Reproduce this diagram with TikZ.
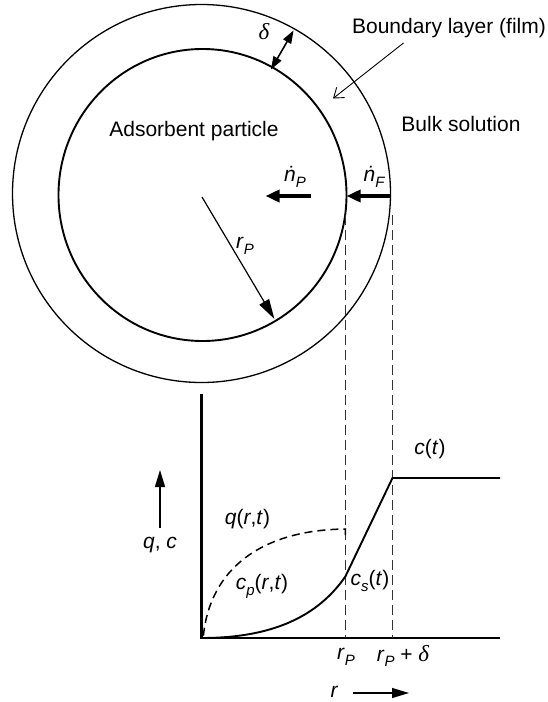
\documentclass[tikz,border=0pt]{standalone}
\usepackage{fontspec}
\setmainfont{Liberation Sans}
\newfontfamily\timesfont{Liberation Serif}
\usetikzlibrary{arrows.meta}
\newcommand\sub[1]{\raisebox{-0.28em}{\fontsize{15}{15}\selectfont\itshape #1}}
\newcommand\ndot{\textit{n^^^^0307}}
\newcommand\dlt{{\timesfont\fontsize{23}{24}\selectfont\itshape δ}}
\begin{document}
\begin{tikzpicture}[x=1pt,y=-1pt,
  lbl/.style={font=\fontsize{21}{25}\selectfont, inner sep=0pt},
  thin circ/.style={line width=1.3pt},
  thick circ/.style={line width=1.9pt},
  fluxarrow/.style={line width=3.6pt, -{Triangle[length=14pt,width=12pt]}},
  radarrow/.style={line width=1.2pt, -{Triangle[length=20pt,width=11pt]}},
  deltaarrow/.style={line width=1.6pt, {Triangle[length=13pt,width=9pt]}-{Triangle[length=13pt,width=9pt]}},
  pointer/.style={line width=0.9pt, -{Straight Barb[length=9pt,width=13pt,line width=0.9pt]}},
  axisline/.style={line width=2.6pt},
  profile/.style={line width=1.9pt},
  guide/.style={line width=1.5pt, black!80, dash pattern=on 10pt off 5pt},
  qcurve/.style={line width=1.5pt, dash pattern=on 8pt off 5pt},
  dirarrow/.style={line width=1.4pt, -{Triangle[length=17pt,width=10pt]}}
]
\useasboundingbox (0,0) rectangle (548,702);

% circles
\coordinate (oc) at (201.5,193.5);
\coordinate (ic) at (202.5,195);
\draw[thin circ] (oc) circle[radius=189];
\draw[thick circ] (ic) circle[x radius=144, y radius=146];

% texts top
\node[lbl] (bl) at (449,28) {Boundary layer (film)};
\node[lbl] (bs) at (461,124) {Bulk solution};
\node[lbl] (ap) at (194,131) {Adsorbent particle};
\node[lbl] (np) at (295,177) {\ndot\sub{P}};
\node[lbl] (nf) at (374,177) {\ndot\sub{F}};
\node[lbl] (rpl) at (245,246) {\textit{r}\sub{P}};
\node[lbl] (dl) at (264,32) {\dlt};

% arrows top
\coordinate (nFs) at (390.5,196);
\coordinate (nFe) at (346.5,196);
\coordinate (nPs) at (311,196);
\coordinate (nPe) at (265.5,196);
\draw[fluxarrow] (nFs) -- (nFe);
\draw[fluxarrow] (nPs) -- (nPe);
\coordinate (rs) at (202,197);
\coordinate (re) at (274.4,319);
\draw[radarrow] (rs) -- (re);
\coordinate (di) at (271,69.5);
\coordinate (do) at (293.6,30.4);
\draw[deltaarrow] (di) -- (do);
\coordinate (bls) at (403.5,43);
\coordinate (ble) at (333,98.5);
\draw[pointer] (bls) -- (ble);

% graph
\coordinate (O) at (201.7,638);
\coordinate (Ytop) at (201.7,394);
\coordinate (Xend) at (500,638);
\draw[axisline] (Ytop) -- (O) -- (Xend);

\coordinate (g1t) at (345.3,215);
\coordinate (g1b) at (345.3,638);
\coordinate (g2t) at (392.5,215);
\coordinate (g2b) at (392.5,638);
\draw[guide] (g1t) -- (g1b);
\draw[guide] (g2t) -- (g2b);

\coordinate (cs) at (345.3,576.6);
\coordinate (cb) at (392.5,478);
\coordinate (ce) at (500,478);
\draw[profile] (O) .. controls (282,638) and (322,610) .. (cs) -- (cb) -- (ce);

\coordinate (q0) at (203.4,635.7);
\coordinate (q1) at (345.3,529);
\draw[qcurve] (q0) .. controls (210,570) and (260,530) .. (q1) -- (345.3,540);

\node[lbl] (ct) at (430,449) {\textit{c}(\textit{t})};
\node[lbl] (qrt) at (247.5,519) {\textit{q}(\textit{r},\textit{t})};
\node[lbl] (cprt) at (262,586) {\textit{c}\sub{p}(\textit{r},\textit{t})};
\node[lbl] (cst) at (370,581) {\textit{c}\sub{s}(\textit{t})};
\node[lbl] (qc) at (160,545) {\textit{q}, \textit{c}};
\coordinate (ua) at (160,528);
\coordinate (ub) at (160,470);
\draw[dirarrow] (ua) -- (ub);

\node[lbl] (xrp) at (346,657) {\textit{r}\sub{P}};
\node[lbl] (xrpd) at (403,656) {\textit{r}\sub{P} + \dlt};
\node[lbl] (rr) at (334.5,692) {\textit{r}};
\coordinate (ra) at (353,693);
\coordinate (rb) at (409,693);
\draw[dirarrow, line width=1.2pt] (ra) -- (rb);
\end{tikzpicture}
\end{document}
